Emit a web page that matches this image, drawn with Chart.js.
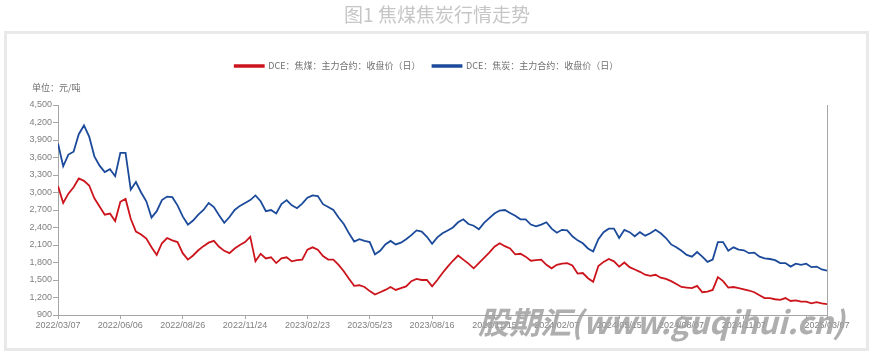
<!DOCTYPE html>
<html>
<head>
<meta charset="utf-8">
<script src="https://cdn.jsdelivr.net/npm/chart.js@4.4.1/dist/chart.umd.min.js"></script>
<style>
  html, body { margin: 0; padding: 0; background: #fff; }
</style>
</head>
<body>
<canvas id="trendChart" width="874" height="351"></canvas>
<script>
// --- DATA ---
// one sample about every 5 trading days, 2022/03/07 .. 2025/03/07
const xTickPos = [0, 12, 24, 36, 48, 60, 72, 84, 96, 108, 120, 132, 144, 148];
const xTickLabels = [
  "2022/03/07", "2022/06/06", "2022/08/26", "2022/11/24", "2023/02/23", "2023/05/23",
  "2023/08/16", "2023/11/15", "2024/02/07", "2024/05/15", "2024/08/07", "2024/11/07",
  "", "2025/03/07",
];
const yMin = 900;
const yMax = 4500;
const yStep = 300;

const chartTitle = "图1 焦煤焦炭行情走势";
const unitLabel = "单位：元/吨";
const seriesNames = ["DCE：焦煤：主力合约：收盘价（日）", "DCE：焦炭：主力合约：收盘价（日）"];
const watermark = "股期汇(www.guqihui.cn)";

// 焦煤 (red)
const cokingCoal = [
  3110, 2820, 2980, 3090, 3240, 3200, 3120, 2900, 2760, 2620,
  2640, 2510, 2840, 2890, 2550, 2330, 2280, 2210, 2060, 1930,
  2130, 2220, 2180, 2150, 1960, 1850, 1920, 2010, 2080, 2140,
  2170, 2070, 2000, 1960, 2040, 2100, 2150, 2240, 1820, 1950,
  1870, 1890, 1790, 1870, 1890, 1820, 1840, 1850, 2020, 2060,
  2020, 1910, 1850, 1850, 1760, 1650, 1520, 1400, 1410, 1380,
  1310, 1250, 1290, 1330, 1380, 1330, 1360, 1390, 1480, 1520,
  1500, 1500, 1390, 1500, 1620, 1730, 1830, 1920, 1850, 1780,
  1700, 1790, 1880, 1970, 2070, 2130, 2080, 2040, 1940, 1950,
  1900, 1830, 1840, 1850, 1760, 1700, 1760, 1780, 1790, 1750,
  1610, 1620, 1530, 1470, 1740, 1810, 1860, 1820, 1730, 1800,
  1720, 1680, 1640, 1590, 1570, 1590, 1540, 1520, 1480, 1430,
  1380, 1370, 1360, 1400, 1290, 1300, 1330, 1550, 1480, 1370,
  1380, 1360, 1340, 1320, 1290, 1240, 1190, 1190, 1170, 1160,
  1190, 1140, 1150, 1130, 1130, 1100, 1120, 1100, 1085,
];

// 焦炭 (blue)
const coke = [
  3840, 3450, 3650, 3700, 4000, 4150, 3960, 3620, 3460, 3350,
  3400, 3280, 3680, 3680, 3050, 3180, 3000, 2850, 2570, 2680,
  2870, 2930, 2920, 2780, 2590, 2450, 2520, 2620, 2700, 2820,
  2750, 2610, 2480, 2580, 2700, 2770, 2820, 2870, 2950, 2850,
  2680, 2700, 2640, 2800, 2870, 2780, 2730, 2810, 2910, 2950,
  2940, 2800, 2750, 2700, 2570, 2460, 2300, 2160, 2200, 2170,
  2150, 1940, 2000, 2110, 2170, 2110, 2140, 2200, 2270, 2350,
  2330, 2240, 2120, 2230, 2300, 2350, 2400, 2490, 2540, 2460,
  2430, 2370, 2480, 2560, 2640, 2690, 2700, 2650, 2600, 2540,
  2540, 2450, 2420, 2450, 2490, 2380, 2310, 2360, 2350, 2250,
  2180, 2130, 2040, 1990, 2200, 2320, 2380, 2380, 2220, 2360,
  2320, 2250, 2320, 2260, 2300, 2360, 2300, 2220, 2110, 2060,
  2000, 1930, 1900, 1980, 1900, 1810, 1850, 2150, 2150, 2000,
  2060, 2020, 2010, 1960, 1970, 1900, 1870, 1860, 1840, 1790,
  1790, 1730, 1780, 1760, 1780, 1720, 1730, 1680, 1660,
];

const RED = "#cc141c";
const BLUE = "#1c4a9a";
const AXIS = "#a6a6a6";
const LABEL = "#808080";

// frame, right border line and watermark
const decorPlugin = {
  id: "decor",
  afterLayout(chart) {
    // nudge the title, legend and unit text to where the original sits
    chart.titleBlock.left += 13.5;
    chart.titleBlock.right += 13.5;
    chart.legend.left += 3;
    chart.legend.right += 3;
    const unit = chart.boxes.find((b) => b.options && b.options.text === unitLabel);
    if (unit) {
      unit.left += 12;
      unit.right += 12;
    }
  },
  beforeDraw(chart) {
    const ctx = chart.ctx;
    ctx.save();
    ctx.fillStyle = "#fff";
    ctx.fillRect(0, 0, chart.width, chart.height);
    ctx.strokeStyle = "#e9e9e9";
    ctx.lineWidth = 3;
    ctx.strokeRect(5.5, 32.5, 862, 317);
    ctx.restore();
  },
  afterDatasetsDraw(chart) {
    const { ctx, chartArea } = chart;
    ctx.save();
    ctx.strokeStyle = AXIS;
    ctx.lineWidth = 1;
    ctx.beginPath();
    ctx.moveTo(chartArea.right + 0.5, chartArea.top);
    ctx.lineTo(chartArea.right + 0.5, chartArea.bottom);
    ctx.stroke();
    ctx.restore();
  },
  afterDraw(chart) {
    const ctx = chart.ctx;
    ctx.save();
    ctx.font = 'italic bold 31px "Noto Sans CJK SC"';
    ctx.fillStyle = "rgba(160, 160, 160, 0.85)";
    ctx.textBaseline = "middle";
    ctx.fillText(watermark, 478, 322, 377);
    ctx.restore();
  },
};

function initChart() {
  const ctx = document.getElementById("trendChart").getContext("2d");

  new Chart(ctx, {
    type: "line",
    data: {
      datasets: [
        {
          label: seriesNames[0],
          data: cokingCoal.map((v, i) => ({ x: i, y: v })),
          borderColor: RED,
          backgroundColor: RED,
          borderWidth: 1.8,
          pointRadius: 0,
          tension: 0,
        },
        {
          label: seriesNames[1],
          data: coke.map((v, i) => ({ x: i, y: v })),
          borderColor: BLUE,
          backgroundColor: BLUE,
          borderWidth: 1.8,
          pointRadius: 0,
          tension: 0,
        },
      ],
    },
    options: {
      responsive: false,
      animation: false,
      devicePixelRatio: 1,
      layout: { padding: { left: 20, right: 47, top: 0, bottom: 0 } },
      plugins: {
        title: {
          display: true,
          text: chartTitle,
          color: "#c6c6c6",
          font: { family: "Noto Sans CJK SC", size: 19, weight: "normal" },
          padding: { top: 3.6, bottom: 23.1 },
        },
        legend: {
          display: true,
          position: "top",
          labels: {
            boxWidth: 29,
            boxHeight: 1.5,
            padding: 12,
            color: "#707070",
            font: { family: "Noto Sans CJK SC", size: 9 },
          },
        },
        subtitle: {
          display: true,
          text: unitLabel,
          align: "start",
          weight: 500,
          color: "#707070",
          font: { family: "Noto Sans CJK SC", size: 9, weight: "normal" },
          padding: { top: 2.1, bottom: 11.6 },
        },
        tooltip: { enabled: false },
      },
      scales: {
        x: {
          type: "linear",
          min: 0,
          max: coke.length - 1,
          afterBuildTicks: (scale) => {
            scale.ticks = xTickPos.map((v) => ({ value: v }));
          },
          afterFit: (scale) => {
            scale.height = 36;
          },
          grid: { drawOnChartArea: false, drawTicks: true, tickLength: 4, color: AXIS },
          border: { display: true, color: AXIS },
          ticks: {
            autoSkip: false,
            maxRotation: 0,
            minRotation: 0,
            padding: 1,
            color: LABEL,
            font: { family: "Liberation Sans", size: 9 },
            callback: (v, i) => xTickLabels[i],
          },
        },
        y: {
          min: yMin,
          max: yMax,
          afterFit: (scale) => {
            scale.width = 38;
          },
          grid: { drawOnChartArea: false, drawTicks: true, tickLength: 5, color: AXIS },
          border: { display: true, color: AXIS },
          ticks: {
            stepSize: yStep,
            padding: 1,
            color: LABEL,
            font: { family: "Liberation Sans", size: 9 },
            callback: (v) => v.toLocaleString("en-US"),
          },
        },
      },
    },
    plugins: [decorPlugin],
  });
}

document.addEventListener("DOMContentLoaded", initChart);
</script>
</body>
</html>
